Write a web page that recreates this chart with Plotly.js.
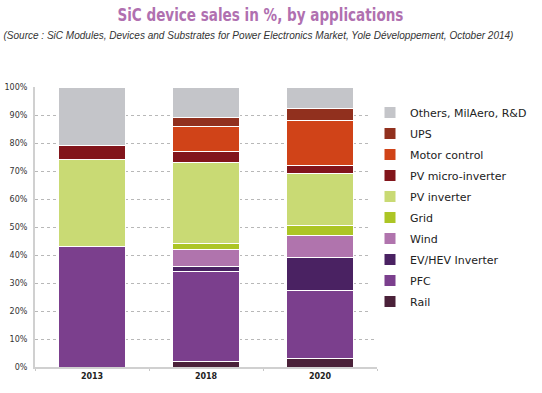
<!DOCTYPE html>
<html><head><meta charset="utf-8">
<script src="https://cdn.plot.ly/plotly-3.0.1.min.js"></script>
<style>body{margin:0;background:#fff}#c{width:542px;height:393px}</style>
</head><body><div id="c"></div>
<script>
const years = ['2013', '2018', '2020'];
const seriesNames = ['Rail', 'PFC', 'EV/HEV Inverter', 'Wind', 'Grid', 'PV inverter', 'PV micro-inverter', 'Motor control', 'UPS', 'Others, MilAero, R&D'];
const rail = [0, 2, 3];
const pfc = [43, 32, 24.5];
const evhev = [0, 2, 11.5];
const wind = [0, 6, 8];
const grid = [0, 2, 3.5];
const pvInverter = [31, 29, 18.5];
const pvMicro = [5, 4, 3];
const motorControl = [0, 9, 16];
const ups = [0, 3, 4.5];
const others = [21, 11, 7.5];
const yTickVals = [0, 10, 20, 30, 40, 50, 60, 70, 80, 90, 100];
const yTickText = ['0%', '10%', '20%', '30%', '40%', '50%', '60%', '70%', '80%', '90%', '100%'];

const values = [rail, pfc, evhev, wind, grid, pvInverter, pvMicro, motorControl, ups, others];
const colors = ['#4a2139', '#7b3f8d', '#4a2262', '#b074ad', '#acc525', '#c9da74', '#82151b', '#d04318', '#91301e', '#c4c5c9'];

const traces = seriesNames.map((n, i) => ({
  type: 'bar', name: n, x: years, y: values[i],
  legendgroup: 'g' + i, legendrank: 100 - i,
  marker: {color: colors[i], line: {color: '#ffffff', width: 1}},
  hoverinfo: 'name+y'
}));

const H = 393, W = 542, L = 35, R = 165, T = 87, B = 26;
const ph = H - T - B, pw = W - L - R;
function py(pix) { return (H - B - pix) / ph; }
function px(pix) { return (pix - L) / pw; }

const layout = {
  width: W, height: H,
  margin: {l: L, r: R, t: T, b: B, autoexpand: false},
  paper_bgcolor: '#fff', plot_bgcolor: '#fff',
  barmode: 'stack', bargap: 0.42,
  font: {family: 'DejaVu Sans, Verdana, sans-serif', color: '#333'},
  xaxis: {
    type: 'category', range: [-0.5, 2.5], showline: true, linecolor: '#d0d0d0', linewidth: 2,
    ticks: 'outside', tickson: 'boundaries', ticklen: 2, tickcolor: '#c8c8c8', tickangle: 0,
    tickfont: {size: 8, color: '#222', weight: 'bold'}, showgrid: false, zeroline: false
  },
  yaxis: {
    range: [0, 100], tickvals: yTickVals, ticktext: yTickText,
    showline: true, linecolor: '#d0d0d0', linewidth: 2,
    showgrid: true, gridcolor: '#b8b8b8', griddash: '3px,3px', gridwidth: 1,
    zeroline: false, tickfont: {size: 8, color: '#333'}, ticklabelstandoff: 4
  },
  legend: {
    x: px(370), y: py(98), xanchor: 'left', yanchor: 'top',
    traceorder: 'grouped', tracegroupgap: 2, maxheight: 400,
    font: {size: 11, color: '#222'}, itemwidth: 30
  },
  annotations: [
    {xref: 'paper', yref: 'paper', x: px(260), y: py(15), xanchor: 'center', yanchor: 'middle', showarrow: false,
     text: '<b>SiC device sales in %, by applications</b>', font: {size: 17, color: '#b070b0', family: 'DejaVu Sans Condensed, DejaVu Sans, sans-serif'}},
    {xref: 'paper', yref: 'paper', x: px(258), y: py(36), xanchor: 'center', yanchor: 'middle', showarrow: false,
     text: '<i>(Source : SiC Modules, Devices and Substrates for Power Electronics Market, Yole Développement, October 2014)</i>',
     font: {size: 10, color: '#333', family: 'Liberation Sans, Arial, sans-serif'}}
  ]
};
Plotly.newPlot('c', traces, layout, {displayModeBar: false, staticPlot: true}).then(() => {
  const texts = document.querySelectorAll('.annotation-text');
  const widths = [286, 510];
  texts.forEach((t, i) => {
    if (!widths[i]) return;
    t.setAttribute('textLength', widths[i]);
    t.setAttribute('lengthAdjust', 'spacingAndGlyphs');
  });
});
</script></body></html>
